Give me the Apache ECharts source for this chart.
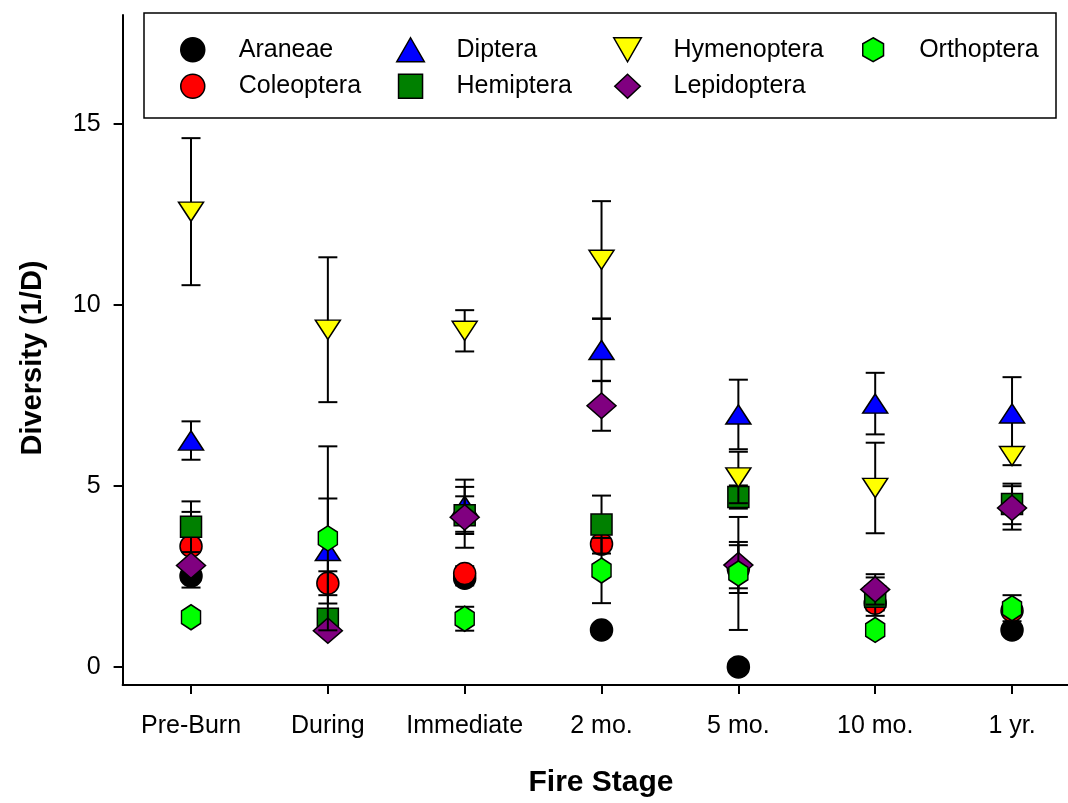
<!DOCTYPE html>
<html>
<head>
<meta charset="utf-8">
<script src="https://cdn.jsdelivr.net/npm/echarts@6/dist/echarts.min.js"></script>
<style>
  html, body { margin: 0; padding: 0; background: #fff; }
  #chart { width: 1068px; height: 803px; }
</style>
</head>
<body>
<div id="chart"></div>
<script>
// Fire stages along the x axis
const stages = ['Pre-Burn', 'During', 'Immediate', '2 mo.', '5 mo.', '10 mo.', '1 yr.'];
const stageIndex = [0, 1, 2, 3, 4, 5, 6];
const yTicks = [0, 5, 10, 15];

// Diversity (1/D) means and standard errors per order, one value per stage
const araneae        = [2.51, null, 2.45, 1.02, 0.00, null, 1.02];
const araneaeSE      = [0.32, 0,    0.20, 0,    0,    0,    0];
const coleoptera     = [3.33, 2.31, 2.58, 3.39, 2.70, 1.76, 1.55];
const coleopteraSE   = [0.95, 0.33, 0.20, 0.10, 0.66, 0.20, 0.12];
const diptera        = [6.25, 3.20, 4.45, 8.75, 6.97, 7.27, 7.00];
const dipteraSE      = [0.53, 1.45, 0.72, 0.86, 0.96, 0.85, 1.00];
const hemiptera      = [3.87, 1.33, 4.19, 3.93, 4.69, 1.94, 4.50];
const hemipteraSE    = [0.70, 0.10, 0.52, 0.80, 0.32, 0.53, 0.56];
const hymenoptera    = [12.57, 9.31, 9.28, 11.24, 5.23, 4.94, 5.82];
const hymenopteraSE  = [2.03, 2.00, 0.57, 1.62, 0.71, 1.25, 0.25];
const lepidoptera    = [2.80, 1.00, 4.13, 7.21, 2.81, 2.14, 4.39];
const lepidopteraSE  = [0.10, 0.10, 0.84, 0.69, 0.64, 0.42, 0.60];
const orthoptera     = [1.37, 3.55, 1.33, 2.66, 2.58, 1.02, 1.62];
const orthopteraSE   = [0.10, 2.54, 0.33, 0.90, 1.56, 0.10, 0.36];

const FONT = '"Liberation Sans", Arial, sans-serif';
const CIRCLE = 'circle';
const SQUARE = 'path://M0,0 L100,0 L100,100 L0,100 Z';
const DIAMOND = 'path://M50,0 L100,47 L50,94 L0,47 Z';
const HEX = 'path://M50,0 L93.3,25 L93.3,75 L50,100 L6.7,75 L6.7,25 Z';
const TRI_UP = 'path://M50,0 L100,87 L0,87 Z';
const TRI_DOWN = 'path://M0,0 L100,0 L50,87 Z';

const orders = [
  { name: 'Araneae',     mean: araneae,     se: araneaeSE,     color: '#000000', symbol: CIRCLE,   size: 22 },
  { name: 'Coleoptera',  mean: coleoptera,  se: coleopteraSE,  color: '#ff0000', symbol: CIRCLE,   size: 22 },
  { name: 'Diptera',     mean: diptera,     se: dipteraSE,     color: '#0000ff', symbol: TRI_UP,   size: [25, 22] },
  { name: 'Hemiptera',   mean: hemiptera,   se: hemipteraSE,   color: '#008000', symbol: SQUARE,   size: 21 },
  { name: 'Hymenoptera', mean: hymenoptera, se: hymenopteraSE, color: '#ffff00', symbol: TRI_DOWN, size: [25, 22] },
  { name: 'Lepidoptera', mean: lepidoptera, se: lepidopteraSE, color: '#800080', symbol: DIAMOND,  size: [29, 27] },
  { name: 'Orthoptera',  mean: orthoptera,  se: orthopteraSE,  color: '#00ff00', symbol: HEX,      size: [22, 25] }
];

// Vertical error bar with caps, drawn in data space
function renderErrorBar(params, api) {
  const x = api.value(0), m = api.value(1), e = api.value(2);
  const top = api.coord([x, m + e]);
  const bot = api.coord([x, m - e]);
  const hw = 9.5;
  const st = { stroke: '#000', lineWidth: 2 };
  return {
    type: 'group',
    children: [
      { type: 'line', shape: { x1: top[0], y1: top[1], x2: bot[0], y2: bot[1] }, style: st },
      { type: 'line', shape: { x1: top[0] - hw, y1: top[1], x2: top[0] + hw, y2: top[1] }, style: st },
      { type: 'line', shape: { x1: bot[0] - hw, y1: bot[1], x2: bot[0] + hw, y2: bot[1] }, style: st }
    ]
  };
}

const series = [];
orders.forEach((o, i) => {
  const pts = [], bars = [];
  o.mean.forEach((v, k) => {
    if (v === null) return;
    pts.push([stageIndex[k], v]);
    if (o.se[k] > 0) bars.push([stageIndex[k], v, o.se[k]]);
  });
  series.push({
    name: o.name + ' SE',
    type: 'custom',
    renderItem: renderErrorBar,
    data: bars,
    encode: { x: 0, y: 1 },
    z: 10 + 2 * i,
    silent: true
  });
  series.push({
    name: o.name,
    type: 'scatter',
    data: pts,
    symbol: o.symbol,
    symbolSize: o.size,
    symbolKeepAspect: true,
    itemStyle: { color: o.color, borderColor: '#000', borderWidth: 1.5, opacity: 1 },
    z: 11 + 2 * i,
    silent: true
  });
});

// Legend laid out in four columns of up to two entries
const legendCols = [
  { names: ['Araneae', 'Coleoptera'], left: 180 },
  { names: ['Diptera', 'Hemiptera'], left: 396 },
  { names: ['Hymenoptera', 'Lepidoptera'], left: 613 },
  { names: ['Orthoptera'], left: 862 }
];
const legends = legendCols.map(c => ({
  data: c.names,
  left: c.left,
  top: 37,
  padding: 0,
  orient: 'vertical',
  itemGap: 11,
  itemWidth: 82,
  itemHeight: 24,
  symbolKeepAspect: true,
  selectedMode: false,
  z: 10,
  itemStyle: { borderColor: '#000', borderWidth: 1.5 },
  textStyle: { fontFamily: FONT, fontSize: 25, color: '#000' }
}));

const chart = echarts.init(document.getElementById('chart'), null, { renderer: 'canvas' });
chart.setOption({
  animation: false,
  backgroundColor: '#fff',
  grid: { left: 122.6, right: 0, top: 15, bottom: 118, containLabel: false },
  legend: legends,
  xAxis: {
    type: 'value',
    min: -0.5,
    max: 6.409,
    axisLine: { onZero: false, lineStyle: { color: '#000', width: 2 } },
    axisTick: { length: 9, customValues: stageIndex, lineStyle: { color: '#000', width: 2 } },
    axisLabel: {
      margin: 29, color: '#000', fontFamily: FONT, fontSize: 25,
      customValues: stageIndex,
      formatter: v => stages[Math.round(v)]
    },
    splitLine: { show: false }
  },
  yAxis: {
    type: 'value',
    min: -0.5,
    max: 18,
    axisLine: { show: true, onZero: false, lineStyle: { color: '#000', width: 2 } },
    axisTick: { show: true, length: 9, customValues: yTicks, lineStyle: { color: '#000', width: 2 } },
    axisLabel: { margin: 22, color: '#000', fontFamily: FONT, fontSize: 25, customValues: yTicks },
    splitLine: { show: false }
  },
  graphic: [
    {
      type: 'rect', z: 5,
      shape: { x: 144, y: 13, width: 912, height: 105 },
      style: { fill: '#fff', stroke: '#000', lineWidth: 1.5 }
    },
    {
      type: 'text', x: 601, y: 783,
      style: { text: 'Fire Stage', font: 'bold 30px ' + FONT, fill: '#000', textAlign: 'center', textVerticalAlign: 'middle' }
    },
    {
      type: 'text', x: 33, y: 358, rotation: Math.PI / 2,
      style: { text: 'Diversity (1/D)', font: 'bold 29px ' + FONT, fill: '#000', textAlign: 'center', textVerticalAlign: 'middle' }
    }
  ],
  series: series
});
</script>
</body>
</html>
